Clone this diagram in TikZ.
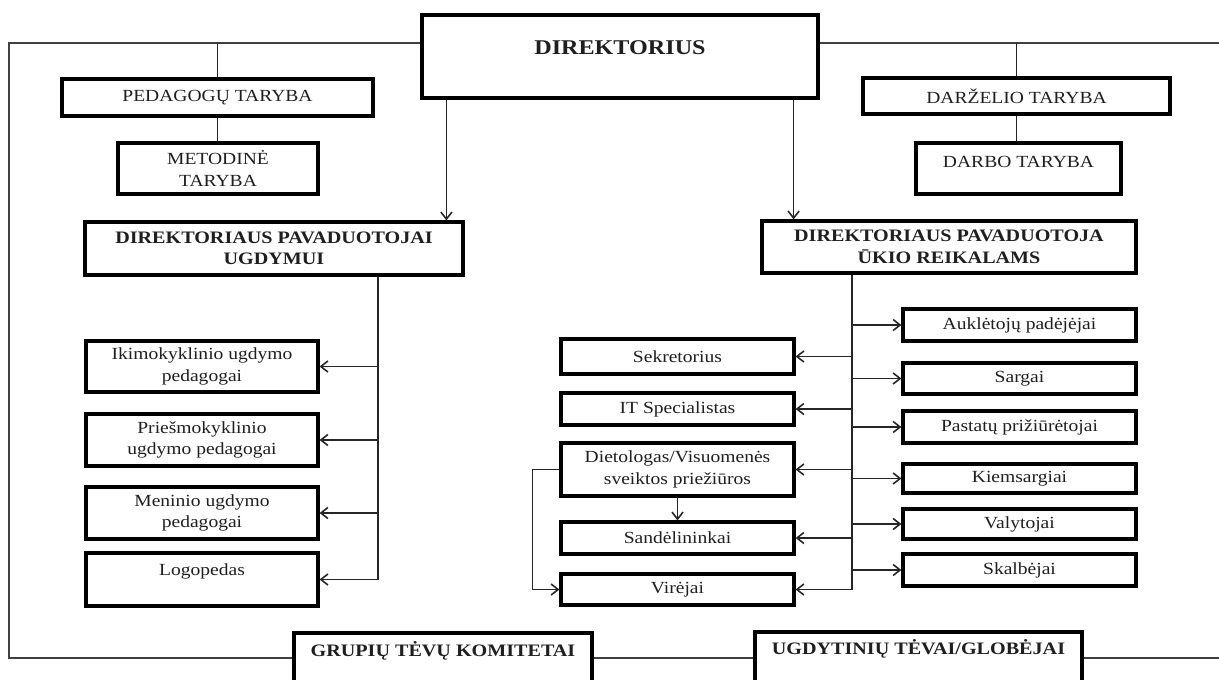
\documentclass[tikz,border=0pt]{standalone}
\usepackage{fontspec}
\setmainfont{Liberation Serif}[FakeStretch=1.15]
\usetikzlibrary{arrows.meta}

\begin{document}
\begin{tikzpicture}[x=1pt, y=-1pt,
  box/.style={draw=black, line width=3.2pt, fill=white, align=center, inner sep=2pt,
    text=black!88, font=\fontsize{17}{21.5}\selectfont},
  head/.style={box, font=\bfseries\fontsize{17.5}{21.5}\selectfont},
  link/.style={line width=1.6pt, draw=black!85},
  arr/.style={link, -{Straight Barb[length=7pt,width=11pt]}},
  frameline/.style={line width=1.6pt, draw=black!75}]
\useasboundingbox (0,0) rectangle (1219,680);
\clip (0,0) rectangle (1219,680);

% top of the chart
\node[head, minimum width=396pt, minimum height=83pt, text depth=17pt,
  font=\bfseries\fontsize{21}{25}\selectfont] (dir) at (620,56.5) {DIREKTORIUS};
\node[box, minimum width=311pt, minimum height=37pt] (ped) at (217.5,97.5) {PEDAGOGŲ TARYBA};
\node[box, minimum width=200pt, minimum height=51pt] (met) at (218,168.5) {METODINĖ\\TARYBA};
\node[box, minimum width=307pt, minimum height=36pt] (dar) at (1016.5,96) {DARŽELIO TARYBA};
\node[box, minimum width=205pt, minimum height=51pt, text depth=13pt] (darbo) at (1018.5,168.5) {DARBO TARYBA};
\node[head, minimum width=378pt, minimum height=53pt] (pavUgd) at (274,248.5) {DIREKTORIAUS PAVADUOTOJAI\\UGDYMUI};
\node[head, minimum width=374pt, minimum height=52pt] (pavUki) at (949,247) {DIREKTORIAUS PAVADUOTOJA\\ŪKIO REIKALAMS};

% ugdymas
\node[box, minimum width=232pt, minimum height=51pt] (ikim) at (202,366.5) {Ikimokyklinio ugdymo\\pedagogai};
\node[box, minimum width=232pt, minimum height=52pt] (priesm) at (202,440) {Priešmokyklinio\\ugdymo pedagogai};
\node[box, minimum width=232pt, minimum height=52pt] (menin) at (202,513) {Meninio ugdymo\\pedagogai};
\node[box, minimum width=232pt, minimum height=53pt, text depth=19pt] (logo) at (202,579.5) {Logopedas};

% ukis
\node[box, minimum width=233pt, minimum height=35pt] (sekr) at (677.5,356.5) {Sekretorius};
\node[box, minimum width=233pt, minimum height=32pt] (it) at (677.5,409) {IT Specialistas};
\node[box, minimum width=233pt, minimum height=53pt] (diet) at (677.5,469.5) {Dietologas/Visuomenės\\sveiktos priežiūros};
\node[box, minimum width=233pt, minimum height=32pt] (sand) at (677.5,538) {Sandėlininkai};
\node[box, minimum width=233pt, minimum height=31pt] (vir) at (677.5,589.5) {Virėjai};
\node[box, minimum width=233pt, minimum height=32pt] (aukl) at (1019.5,325) {Auklėtojų padėjėjai};
\node[box, minimum width=233pt, minimum height=31pt] (sarg) at (1019.5,378.5) {Sargai};
\node[box, minimum width=233pt, minimum height=32pt] (past) at (1019.5,427) {Pastatų prižiūrėtojai};
\node[box, minimum width=233pt, minimum height=29pt] (kiem) at (1019.5,478.5) {Kiemsargiai};
\node[box, minimum width=233pt, minimum height=30pt] (valy) at (1019.5,524) {Valytojai};
\node[box, minimum width=233pt, minimum height=32pt] (skal) at (1019.5,570) {Skalbėjai};

% bottom
\node[head, minimum width=298pt, minimum height=57pt, text depth=26pt] (grup) at (443,661.5) {GRUPIŲ TĖVŲ KOMITETAI};
\node[head, minimum width=327pt, minimum height=58pt, text depth=29pt] (ugd) at (918.5,661) {UGDYTINIŲ TĖVAI/GLOBĖJAI};

% outer frame
\coordinate (tl) at (9,43);
\coordinate (bl) at (9,658);
\coordinate (tr) at (1219,43);
\coordinate (br) at (1219,658);
\draw[frameline] (dir.west |- tl) -- (tl) -- (bl) -- (grup.west |- bl);
\draw[frameline] (grup.east |- bl) -- (ugd.west |- bl);
\draw[frameline] (ugd.east |- br) -- (br);
\draw[frameline] (dir.east |- tr) -- (tr);

% councils
\draw[link] (ped.north |- tl) -- (ped.north);
\draw[link] (ped.south) -- (ped.south |- met.north);
\draw[link] (dar.north |- tr) -- (dar.north);
\draw[link] (dar.south) -- (dar.south |- darbo.north);

% deputies
\draw[arr] ([xshift=26pt]dir.south west) coordinate (a1) -- (a1 |- pavUgd.north);
\draw[arr] ([xshift=-26pt]dir.south east) coordinate (a2) -- (a2 |- pavUki.north);

% left bus
\draw[link] ([xshift=104pt]pavUgd.south) coordinate (busL) -- (busL |- logo.east);
\foreach \n in {ikim,priesm,menin,logo}
  \draw[arr] (busL |- \n.east) -- (\n.east);

% right bus
\draw[link] ([xshift=-97pt]pavUki.south) coordinate (busR) -- (busR |- vir.east);
\foreach \n in {sekr,it,diet,sand,vir}
  \draw[arr] (busR |- \n.east) -- (\n.east);
\foreach \n in {aukl,sarg,past,kiem,valy,skal}
  \draw[arr] (busR |- \n.west) -- (\n.west);

\draw[arr] (diet.south) -- (sand.north);
\draw[arr] (diet.west) -- ++(-27,0) |- (vir.west);
\end{tikzpicture}
\end{document}
